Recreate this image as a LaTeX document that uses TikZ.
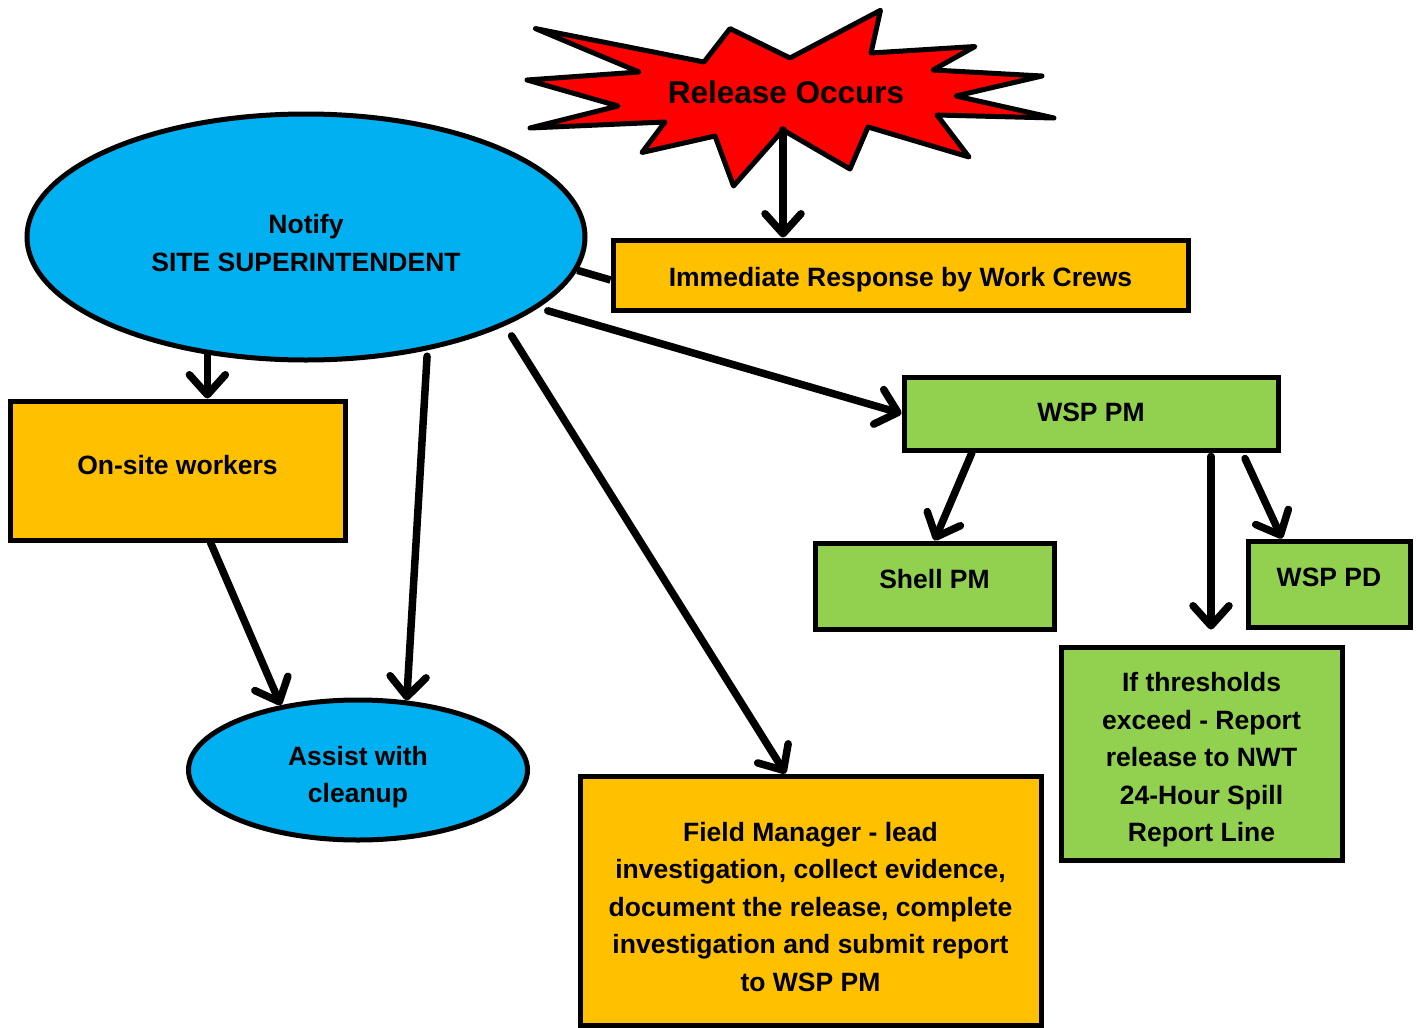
\documentclass[tikz,border=0pt]{standalone}
\usepackage{fontspec}
\setmainfont{Liberation Sans}
\usetikzlibrary{arrows.meta,shapes.geometric}
\definecolor{cblue}{HTML}{00B0F0}
\definecolor{corange}{HTML}{FFC000}
\definecolor{cgreen}{HTML}{92D050}
\definecolor{cred}{HTML}{FF0000}
\begin{document}
\begin{tikzpicture}[x=1pt,y=-1pt,
  box/.style={draw=black, line width=5pt, rectangle, inner sep=0pt},
  oval/.style={draw=black, line width=5pt, ellipse, inner sep=0pt, fill=cblue},
  txt/.style={font=\fontsize{26.5}{37.5}\selectfont\bfseries, align=center, inner sep=0pt},
  arr/.style={line width=7.5pt, line cap=round, -{Straight Barb[length=20pt,width=36pt,round]}},
  plain/.style={line width=7.5pt}]
\useasboundingbox (0,0) rectangle (1417,1028);
\clip (0,0) rectangle (1417,1028);

% starburst
\draw[line width=5pt, line join=round, fill=cred]
 (535.5,28.6) -- (704,62) -- (730,28.6) -- (790,58) -- (880.5,10.3) -- (871,53)
 -- (975,46.5) -- (933,70) -- (1042,76) -- (956,96) -- (1054,118) -- (937,115)
 -- (969,157) -- (868,127) -- (850,169) -- (783,130) -- (733.5,186) -- (715,136)
 -- (642,152.5) -- (665,122) -- (530,128) -- (618,106) -- (527,80) -- (639,72) -- cycle;
\node[txt, font=\fontsize{31.5}{36}\selectfont\bfseries] (release) at (786,92) {Release Occurs};
\coordinate (burstbot) at (783,130);

% boxes
\node[box, fill=corange, minimum width=575pt, minimum height=70pt] (imm) at (900.5,275) {};
\node[txt] (immT) at (900.5,280) {Immediate Response by Work Crews};

\node[oval, minimum width=558pt, minimum height=246pt] (notify) at (306,237) {};
\node[txt, font=\fontsize{26.5}{38}\selectfont\bfseries] (notifyT) at (306,243) {Notify\\SITE SUPERINTENDENT};

\node[box, fill=corange, minimum width=335pt, minimum height=139pt] (onsite) at (177.5,470.5) {};
\node[txt] (onsiteT) at (177.5,465) {On-site workers};

\node[oval, minimum width=339pt, minimum height=140pt] (assist) at (358,770) {};
\node[txt] (assistT) at (358,777) {Assist with\\cleanup};

\node[box, fill=corange, minimum width=461pt, minimum height=249pt] (fm) at (810.5,900.5) {};
\node[txt] (fmT) at (810.5,907) {Field Manager - lead\\investigation, collect evidence,\\document the release, complete\\investigation and submit report\\to WSP PM};

\node[box, fill=cgreen, minimum width=374pt, minimum height=73pt] (wsppm) at (1091,413.5) {};
\node[txt] (wsppmT) at (1091,412) {WSP PM};

\node[box, fill=cgreen, minimum width=239pt, minimum height=86pt] (shell) at (934.5,586) {};
\node[txt] (shellT) at (934.5,579) {Shell PM};

\node[box, fill=cgreen, minimum width=162pt, minimum height=86pt] (pd) at (1329,584) {};
\node[txt] (pdT) at (1329,577) {WSP PD};

\node[box, fill=cgreen, minimum width=281pt, minimum height=213pt] (thr) at (1201.5,753.5) {};
\node[txt] (thrT) at (1201.5,760) {If thresholds\\exceed - Report\\release to NWT\\24-Hour Spill\\Report Line};

% connectors
\draw[arr] (burstbot) -- (burstbot |- imm.north);
\draw[plain] (notify.-7) -- ([yshift=-5pt]imm.west);
\draw[arr, shorten <=10pt] (notify.-17) -- (wsppm.west);
\draw[arr] (notify.230) -- (notify.230 |- onsite.north);
\draw[arr] ([xshift=33pt]onsite.south) -- (assist.140);
\draw[arr, shorten <=6pt] (notify.-43) -- (assist.55);
\draw[arr, shorten <=12pt] (notify.-24) -- ([xshift=-25pt]fm.north);
\draw[arr] ([xshift=-119pt]wsppm.south) -- (shell.north);
\draw[arr] ([xshift=154pt,yshift=-6pt]wsppm.south) -- ([xshift=-47pt]pd.north);
\draw[arr] ([xshift=120pt,yshift=-4pt]wsppm.south) -- ([xshift=9.5pt,yshift=15pt]thr.north);
\end{tikzpicture}
\end{document}
